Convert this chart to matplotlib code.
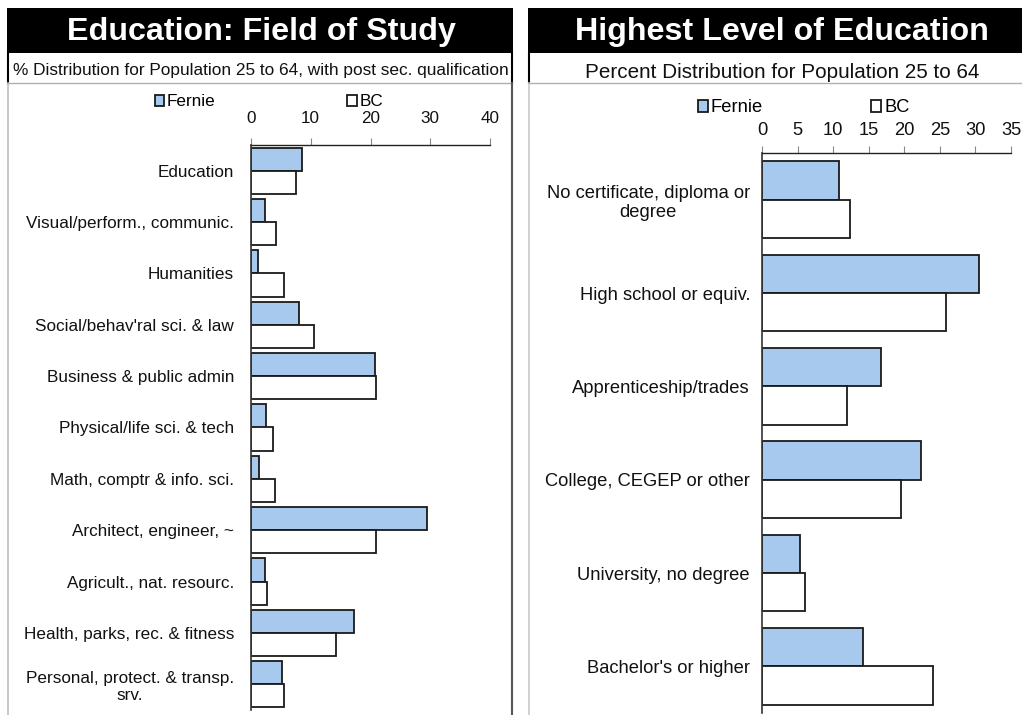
import numpy as np
import matplotlib
matplotlib.use("Agg")
import matplotlib.pyplot as plt
from matplotlib.patches import Rectangle
from matplotlib.lines import Line2D

plt.rcParams['font.family'] = ['Liberation Sans', 'DejaVu Sans']

# data, left chart
field_labels = ["Education", "Visual/perform., communic.", "Humanities",
                "Social/behav'ral sci. & law", "Business & public admin",
                "Physical/life sci. & tech", "Math, comptr & info. sci.",
                "Architect, engineer, ~", "Agricult., nat. resourc.",
                "Health, parks, rec. & fitness", "Personal, protect. & transp.\nsrv."]
field_fernie = [8.5, 2.4, 1.1, 8.1, 20.7, 2.5, 1.3, 29.5, 2.4, 17.2, 5.2]
field_bc = [7.5, 4.2, 5.6, 10.5, 21.0, 3.6, 4.0, 21.0, 2.6, 14.3, 5.5]
field_ticks = [0, 10, 20, 30, 40]

# data, right chart
level_labels = ["No certificate, diploma or\ndegree", "High school or equiv.",
                "Apprenticeship/trades", "College, CEGEP or other",
                "University, no degree", "Bachelor's or higher"]
level_fernie = [10.8, 30.5, 16.7, 22.4, 5.3, 14.2]
level_bc = [12.4, 25.9, 12.0, 19.6, 6.1, 24.1]
level_ticks = [0, 5, 10, 15, 20, 25, 30, 35]

W, H = 1022, 715
fig = plt.figure(figsize=(W / 100, H / 100), dpi=100)
fig.patch.set_facecolor('white')

BLUE = '#a7c9ee'
EDGE = '#1a1a1a'


def px_rect(x0, y0, x1, y1):
    return [x0 / W, 1 - y1 / H, (x1 - x0) / W, (y1 - y0) / H]


def fx(x):
    return x / W


def fy(y):
    return 1 - y / H


# frames: title bars, subtitle rows, panel borders
for x0, x1 in [(7, 513), (528, 1022)]:
    fig.patches.append(Rectangle((fx(x0), fy(53)), fx(x1) - fx(x0), fy(8) - fy(53),
                                 transform=fig.transFigure, facecolor='black',
                                 edgecolor='none', zorder=0))
lines = [
    ((8, 8), (53, 83), 'black', 1.5),
    ((512, 512), (53, 83), 'black', 1.5),
    ((529, 529), (53, 83), 'black', 1.5),
    ((8, 512), (83, 83), '#b0b0b0', 1.0),
    ((529, 1022), (83, 83), '#b0b0b0', 1.0),
    ((8, 8), (83, 715), '#bdbdbd', 1.2),
    ((512, 512), (83, 715), '#555555', 1.5),
    ((529, 529), (83, 715), '#c8c8c8', 1.2),
]
for xs, ys, c, lw in lines:
    fig.lines.append(Line2D([fx(x) for x in xs], [fy(y) for y in ys],
                            transform=fig.transFigure, color=c, linewidth=lw))

fig.text(fx(261), fy(32), "Education: Field of Study", color='white',
         fontsize=23.2, fontweight='bold', ha='center', va='center')
fig.text(fx(782), fy(32), "Highest Level of Education", color='white',
         fontsize=23.2, fontweight='bold', ha='center', va='center')
fig.text(fx(261), fy(70), "% Distribution for Population 25 to 64, with post sec. qualification",
         fontsize=12.4, ha='center', va='center', color='#111111')
fig.text(fx(782), fy(72), "Percent Distribution for Population 25 to 64",
         fontsize=14.9, ha='center', va='center', color='#111111')


def draw(rect, labels, fernie, bc, ticks, bh, fs, pad_lab, pad_tick, leg_pos, colspace):
    ax = fig.add_axes(rect)
    n = len(labels)
    pos = np.arange(n)
    b1 = ax.barh(pos - bh / 2, fernie, height=bh, color=BLUE, edgecolor=EDGE,
                 linewidth=1.3, label='Fernie')
    b2 = ax.barh(pos + bh / 2, bc, height=bh, color='white', edgecolor=EDGE,
                 linewidth=1.3, label='BC')
    ax.set_ylim(n - 0.5, -0.5)
    ax.set_xlim(ticks[0], ticks[-1])
    ax.set_xticks(ticks)
    ax.xaxis.tick_top()
    ax.set_yticks(pos)
    ax.set_yticklabels(labels, fontsize=fs, multialignment='center', color='#111111')
    ax.tick_params(axis='y', length=0, pad=pad_lab)
    ax.tick_params(axis='x', length=5, color='#888888', labelsize=fs,
                   pad=pad_tick, labelcolor='#111111')
    for s in ['bottom', 'right']:
        ax.spines[s].set_visible(False)
    ax.spines['top'].set_color('#222222')
    ax.spines['left'].set_color('#333333')
    ax.spines['top'].set_linewidth(1.0)
    ax.spines['left'].set_linewidth(1.2)
    ax.set_facecolor('none')
    fig.legend([b1, b2], ['Fernie', 'BC'], loc='center left',
               bbox_to_anchor=leg_pos, ncol=2, frameon=False, fontsize=fs,
               handlelength=0.55, handleheight=0.55, handletextpad=0.15,
               columnspacing=colspace, borderaxespad=0, borderpad=0)
    return ax


draw(px_rect(251, 145, 490, 710), field_labels, field_fernie, field_bc, field_ticks,
     0.45, 12.3, 12.2, 8.5, (fx(155), fy(102)), 7.7)
draw(px_rect(762, 153, 1011, 713), level_labels, level_fernie, level_bc, level_ticks,
     0.41, 13.2, 8.6, 5.0, (fx(698), fy(108)), 5.9)

fig.savefig('out.png', dpi=100)
